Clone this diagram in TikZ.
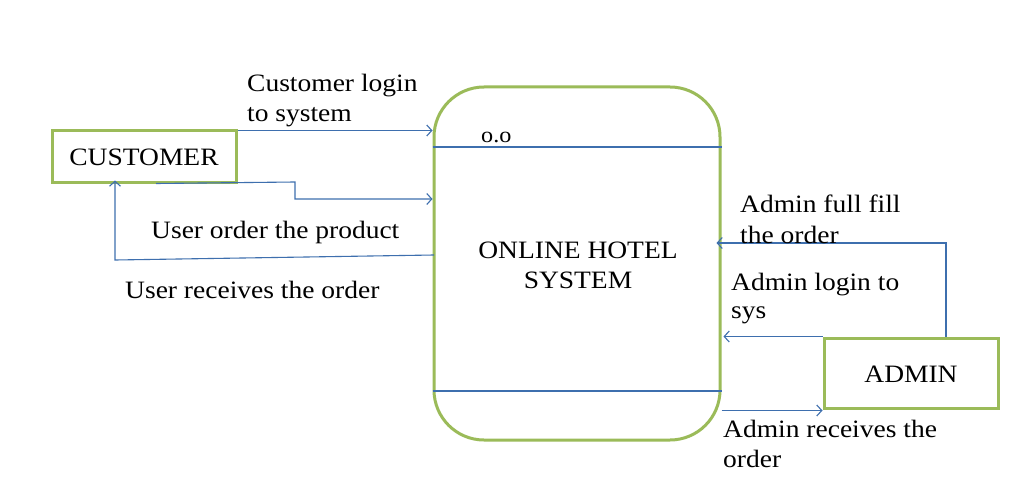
\documentclass[tikz,border=0pt]{standalone}
\usepackage{fontspec}
\setmainfont{Liberation Serif}[FakeStretch=1.1]
\usetikzlibrary{arrows.meta,calc}
\definecolor{boxgreen}{HTML}{9BBB59}
\definecolor{flowblue}{HTML}{3E6FAE}
\begin{document}
\begin{tikzpicture}[x=1pt,y=-1pt,
  ent/.style={draw=boxgreen, line width=3pt, fill=white, inner sep=0pt, font=\fontsize{25}{30}\selectfont},
  proc/.style={draw=boxgreen, line width=3pt, fill=white, rounded corners=50pt, minimum width=286pt, minimum height=353pt, inner sep=0pt},
  flow/.style={draw=flowblue, line width=1.1pt, -{Straight Barb[length=5pt,width=11pt,line width=1.1pt]}},
  sep/.style={draw=flowblue, line width=1.1pt},
  lbl/.style={anchor=base west, inner sep=0pt, font=\fontsize{25}{30}\selectfont},
  ctr/.style={anchor=base, inner sep=0pt, font=\fontsize{25}{30}\selectfont}]
\useasboundingbox[fill=white] (0,0) rectangle (1016,497);
% process
\node[proc] (proc) at (577,263.5) {};
\draw[sep] (proc.west |- {(0,147)}) -- (proc.east |- {(0,147)});
\draw[sep] (proc.west |- {(0,391)}) -- (proc.east |- {(0,391)});
\node[anchor=base west, inner sep=0pt, font=\fontsize{22}{26}\selectfont] (pid) at (481,143) {o.o};
\node[ctr] (pt1) at (578,258) {ONLINE HOTEL};
\node[ctr] (pt2) at (578,288) {SYSTEM};
% entities
\node[ent, minimum width=184pt, minimum height=51pt] (cust) at (144,156.5) {};
\node[ctr] (custt) at (144,165) {CUSTOMER};
\node[ent, minimum width=174pt, minimum height=70pt] (admin) at (911,373) {};
\node[ctr] (admint) at (911,382) {ADMIN};
% customer flows
\draw[flow] ([yshift=-1pt]cust.north east) -- ([yshift=-1pt]cust.north east -| proc.west);
\coordinate (c2a) at (295,182);
\coordinate (c2b) at (295,199);
\draw[flow] ([xshift=12pt]cust.south) -- (c2a) -- (c2b) -- (c2b -| proc.west);
\coordinate (c3s) at (434,255);
\coordinate (c3) at (115,260);
\draw[flow] (c3s) -- (c3) -- ([yshift=3pt]c3 |- cust.south);
\node[lbl] (l1a) at (247,92) {Customer login};
\node[lbl] (l1b) at (247,122) {to system};
\node[lbl] (l2) at (151,238) {User order the product};
\node[lbl] (l3) at (125,298) {User receives the order};
% admin flows
\coordinate (a1) at (946,243);
\draw[flow] ([xshift=35pt]admin.north) -- (a1) -- ([xshift=-5pt]a1 -| proc.east);
\draw[flow] (admin.north west) -- ([xshift=2pt]admin.north west -| proc.east);
\draw[flow] ([yshift=-1pt]admin.south west -| proc.east) -- ([yshift=-1pt]admin.south west);
\node[lbl] (l4a) at (740,212) {Admin full fill};
\node[lbl] (l4b) at (740,243) {the order};
\node[lbl] (l5a) at (731,290) {Admin login to};
\node[lbl] (l5b) at (731,318) {sys};
\node[lbl] (l6a) at (723,437) {Admin receives the};
\node[lbl] (l6b) at (723,467) {order};
\end{tikzpicture}
\end{document}
